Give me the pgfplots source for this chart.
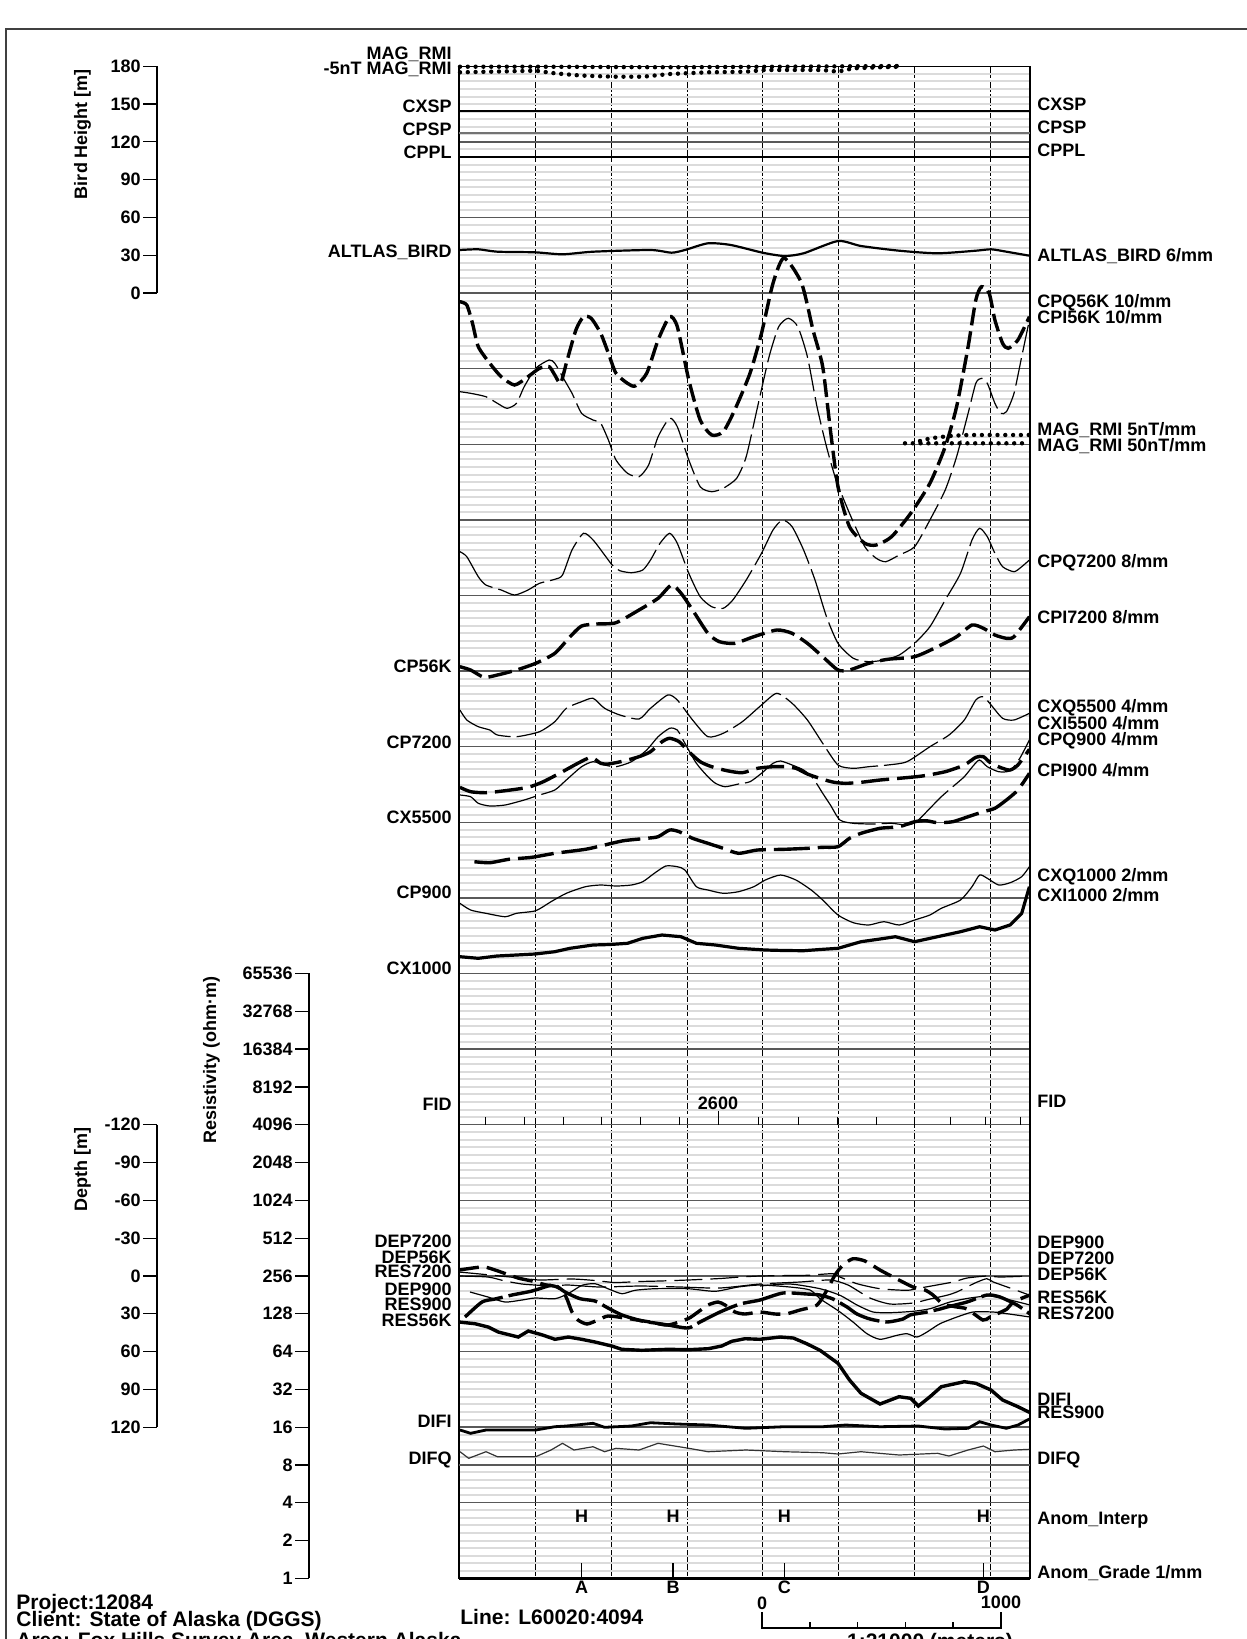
\documentclass[border=0pt]{standalone}
\usepackage{fontspec}
\setmainfont{Liberation Sans}
\usepackage{pgfplots}
\pgfplotsset{compat=1.18}

% 1 px of the reference = 0.5pt; all plot coordinates are in reference pixels (y grows downwards)
\tikzset{
  lbl/.style={font=\fontsize{9}{9}\selectfont\bfseries, inner sep=0pt, yshift=-3.2pt},
  L/.style={lbl, anchor=base east},
  R/.style={lbl, anchor=base west},
  big/.style={font=\fontsize{10.5}{10.5}\selectfont\bfseries, inner sep=0pt, yshift=-3.8pt, anchor=base west},
}
\pgfplotsset{
  scaleaxis/.style={anchor=south west, scale only axis, width=1pt, xmin=0, xmax=1,
    hide x axis, axis y line=left, y axis line style={-, line width=0.6pt, black},
    tick align=outside, major tick length=7pt, minor tick length=0pt,
    ytick style={line width=0.6pt, black},
    yticklabel style={font=\fontsize{9}{9}\selectfont\bfseries, inner sep=1pt}},
  thin/.style={black, line width=0.6pt, smooth, tension=0.4},
  thick/.style={black, line width=1.7pt, smooth, tension=0.4},
  dots/.style={black, line width=2.2pt, line cap=round, dash pattern=on 0pt off 3.9pt},
}

\begin{document}
\begin{tikzpicture}

% ---------------- profile panel ----------------
\begin{axis}[
  at={(229.5pt,30.35pt)}, anchor=south west, scale only axis,
  width=285.5pt, height=756pt,
  xmin=459, xmax=1030, ymin=66.3, ymax=1578.3, y dir=reverse,
  clip=false,
  axis line style={black, line width=0.6pt},
  xtick={535.4,611.2,687,762.8,838.6,914.4,990.2},
  ytick={66.3,141.9,217.5,293.1,368.7,444.3,519.9,595.5,671.1,746.7,822.3,897.9,973.5,1049.1,1124.7,1200.3,1275.9,1351.5,1427.1,1502.7,1578.3},
  extra y ticks={1465}, extra y tick labels={}, extra y tick style={grid=major},
  minor y tick num=9,
  xticklabels={}, yticklabels={},
  major tick length=0pt, minor tick length=0pt,
  xmajorgrids, ymajorgrids, yminorgrids,
  major x grid style={black, line width=0.45pt, dash pattern=on 6pt off 1pt},
  major y grid style={black!65, line width=0.75pt},
  minor y grid style={black!14, line width=1pt},
]

% MAG_RMI
\addplot[dots] coordinates {(460,66.7)(535.7,66.7)(669.6,67.3)(784.4,66.7)(897.3,66)};
\addplot[dots] coordinates {(460,72.3)(500,71.5)(535.7,70.7)(554.8,73.3)(580,75.5)(612.2,76.7)(643,76.7)(669.6,74)(708,72.3)(746,71.7)(765.3,70)(822.7,70)(838,71.7)(853,68.3)(880,67.3)(899,66.7)};

% CXSP, CPSP, CPPL
\addplot[black, line width=0.9pt] coordinates {(459,111)(1030,111)};
\addplot[black!55, line width=1.4pt] coordinates {(459,133)(1030,133)};
\addplot[black, line width=0.9pt] coordinates {(459,157)(1030,157)};

% ALTLAS_BIRD
\addplot[black, line width=1.1pt, smooth, tension=0.4] coordinates {
(459.9,250)(478.3,249.3)(497.4,251.7)(534.9,252.3)(562.5,254.3)(593.1,251.7)(650.5,250)(671.5,252.7)(684.9,250)(707.9,243.3)(730.9,245)(762.6,252.7)(784.4,256)(803.6,253.3)(838,241)(861,246)(899.2,250.7)(937.5,253.3)(975.8,250.7)(991.1,249.3)(1006.4,251.7)(1029.4,255.7)};

% CPQ56K (thin dashed)
\addplot[thin, dash pattern=on 14pt off 3pt] coordinates {
(459.9,391.7)(470.6,393.3)(485.9,396.7)(497.4,403.3)(507,408.3)(516.5,403.3)(524.2,386.7)(535.7,368.3)(549.1,360)(554.8,363.3)(562.5,376.7)(572,393.3)(581.6,413.3)(593.1,420)(600.7,423.3)(608.4,440)(616,460)(627.5,473.3)(639,476.7)(648.6,465)(658.1,436.7)(669.6,418.3)(677.3,426.7)(688.8,460)(700.2,486.7)(711.7,491.7)(723.2,488.3)(736.6,478.3)(746.2,456.7)(757.6,406.7)(769.1,356.7)(778.7,326.7)(788.3,318.3)(797.8,326.7)(807.4,356.7)(817,406.7)(826.5,446.7)(836.1,480)(849.5,513.3)(864.8,546.7)(876.3,558.3)(885.8,561.7)(899.2,555)(914.6,546.7)(929.9,520)(945.2,490)(956.6,456.7)(968.1,413.3)(975.8,383.3)(981.5,378.3)(987.3,383.3)(994.9,403.3)(1000.7,413.3)(1006.4,411.7)(1014,393.3)(1021.7,356.7)(1029.4,320)};

% CPI56K (thick dashed)
\addplot[thick, dash pattern=on 9pt off 3pt] coordinates {
(459.9,301.7)(466.8,305)(472.5,323.3)(478.3,346.7)(489.8,363.3)(501.2,376.7)(514.6,385)(528,376.7)(539.5,368.3)(549.1,366.7)(554.8,375)(560.6,383.3)(566.3,363.3)(575.9,330)(583.5,316.7)(591.2,318.3)(600.7,333.3)(608.4,353.3)(616,373.3)(627.5,383.3)(635.2,386)(646.7,373.3)(658.1,340)(669.6,316.7)(677.3,326.7)(688.8,380)(700.2,420)(711.7,435)(723.2,431.7)(734.7,410)(750,373.3)(761.5,333.3)(773,283.3)(784,258)(801.6,283.3)(813,330)(822.7,366.7)(830.4,430)(838,486.7)(849.5,526.7)(864.8,543.3)(876.3,545)(891.6,536.7)(910.7,513.3)(929.9,483.3)(945.2,446.7)(956.6,406.7)(968.1,346.7)(975.8,300)(981.5,286.7)(989.2,293.3)(994.9,320)(1002.6,343.3)(1008.3,348.3)(1017.9,340)(1029.4,316.7)};

% MAG_RMI 5nT/mm, 50nT/mm
\addplot[dots] coordinates {(920,441)(926,439.3)(937.5,437.3)(953,435.7)(968,435)(1029.4,435)};
\addplot[dots] coordinates {(905,443.3)(1029.4,443.3)};

% CPQ7200 (thin long dashed)
\addplot[thin, dash pattern=on 25pt off 3pt] coordinates {
(459.9,551.7)(466.8,556.7)(478.3,576.7)(485.9,585)(501.2,590)(514.6,595)(528,590)(539.5,583.3)(554.8,579.3)(562.5,575)(572,550)(583.5,533.3)(593.1,540)(604.6,555)(612.2,565)(619.9,570.7)(631.4,572.7)(642.8,570)(650.5,560)(660,543.3)(669.6,533.3)(677.3,543.3)(688.8,573.3)(700.2,596.7)(711.7,606.7)(723.2,608.3)(732.8,600)(746.2,580)(761.5,553.3)(773,530)(782.5,520)(792.1,526.7)(803.6,550)(815,580)(826.5,616.7)(838,643.3)(853.3,658.3)(868.6,661.7)(883.9,660)(899.2,655)(914.6,643.3)(929.9,626.7)(945.2,600)(960.5,573.3)(972,540)(979.6,528.3)(987.3,536.7)(994.9,553.3)(1002.6,566.7)(1014,571.7)(1021.7,566.7)(1029.4,560)};

% CPI7200 (thick dashed)
\addplot[thick, dash pattern=on 12pt off 3.5pt] coordinates {
(459.9,666.7)(470.6,670)(484,677.3)(497.4,675)(516.5,670)(535.7,663.3)(554.8,653.3)(570.1,636.7)(581.6,626)(596.9,624)(616,622.7)(639,610)(658.1,598.3)(671.5,585)(681.1,593.3)(692.6,610)(707.9,633.3)(719.4,641.7)(734.7,643.3)(753.8,636.7)(776.8,630)(792.1,633.3)(807.4,643.3)(822.7,656.7)(838,670)(849.5,670)(868.6,663.3)(887.7,659.3)(914.6,656.7)(937.5,646.7)(956.6,636.7)(972,625)(983.4,628.3)(994.9,635)(1006.4,638.3)(1014,636.7)(1029.4,616.7)};

% CXQ5500 (thin long dashed)
\addplot[thin, dash pattern=on 30pt off 3pt] coordinates {
(459.9,710)(466.8,720)(478.3,726.7)(489.8,730)(497.4,735)(516.5,736.7)(539.5,731.7)(554.8,721.7)(566.3,708.3)(581.6,701.7)(593.1,698.3)(604.6,708.3)(619.9,715)(639,719)(650.5,708.3)(667.7,695)(677.3,700)(692.6,720)(707.9,736.7)(723.2,733.3)(742.3,721.7)(761.5,705)(776.8,693.3)(792.1,703.3)(807.4,720)(822.7,743.3)(838,765)(853.3,768.3)(868.6,766.7)(887.7,765)(906.9,761.7)(929.9,746.7)(949,735)(964.3,720)(975.8,700)(983.4,696.7)(991.1,705)(1002.6,718.3)(1014,720)(1029.4,713.3)};

% CPI900 (thick dashed)
\addplot[thick, dash pattern=on 14pt off 4pt] coordinates {
(459.9,787.3)(470.6,791.7)(485.9,792.7)(505.1,790.7)(528,787.3)(543.3,781.7)(562.5,771.7)(577.8,763.3)(591.2,757.3)(600.7,763.3)(608.4,764)(623.7,761)(639,756.7)(650.5,751.7)(662,741.7)(669.6,738.3)(679.2,741.7)(688.8,751.7)(700.2,761.7)(711.7,766.7)(727,770.7)(742.3,772.7)(757.6,768.3)(773,766.7)(784.4,766.7)(795.9,768.3)(807.4,774)(822.7,779.3)(834.2,782.3)(845.7,783.3)(861,782.3)(880.1,780)(899.2,778.3)(922.2,776)(945.2,771.7)(964.3,765)(975.8,757.3)(983.4,756.7)(991.1,763.3)(1002.6,768.3)(1010.2,770)(1017.9,765)(1029.4,749.3)};

% CPQ900 (thin)
\addplot[thin, dash pattern=on 40pt off 3pt] coordinates {
(459.9,795)(470.6,796.7)(478.3,803.3)(489.8,806)(505.1,805)(524.2,800)(539.5,795)(554.8,790)(566.3,780)(581.6,766.7)(593.1,761.7)(604.6,765)(616,766.7)(631.4,761.7)(646.7,750)(658.1,736.7)(669.6,728.3)(677.3,730)(684.9,743.3)(696.4,763.3)(707.9,776.7)(715.5,783.3)(725.1,786.7)(738.5,784)(750,781.7)(761.5,773.3)(773,763.3)(780.6,761)(792.1,765)(803.6,770)(813.1,778.3)(822.7,793.3)(830.4,805)(839.9,820)(853.3,823.3)(872.5,824)(891.6,823.3)(906.9,825)(916.5,821.7)(929.9,808.3)(941.3,796.7)(952.8,786.7)(964.3,776.7)(973.9,765)(979.6,760)(987.3,766.7)(998.7,771.7)(1010.2,770.7)(1019.8,758.3)(1029.4,740)};

% CXI5500 (thick dashed)
\addplot[thick, dash pattern=on 18pt off 4pt] coordinates {
(474.4,861.7)(489.8,862.7)(508.9,859.3)(531.8,857.3)(554.8,853.3)(585.4,849.3)(604.6,845)(623.7,840.7)(646.7,838.3)(658.1,836.7)(669.6,830)(679.2,831.7)(692.6,838.3)(707.9,843.3)(723.2,848.3)(738.5,853.3)(757.6,850)(784.4,849.3)(807.4,848.3)(822.7,847.3)(838,846.7)(849.5,838.3)(861,833.3)(880.1,828.3)(899.2,826.7)(914.6,821.7)(926,820.7)(937.5,822.7)(952.8,821.7)(968.1,816.7)(983.4,811.7)(994.9,808.3)(1006.4,800)(1017.9,790)(1029.4,773.3)};

% CXQ1000 (thin)
\addplot[thin] coordinates {
(459.9,903.3)(470.6,910)(485.9,913.3)(505.1,916.7)(516.5,913.3)(535.7,910.7)(551,901.7)(566.3,893.3)(585.4,886.7)(600.7,885)(616,886)(631.4,885)(642.8,881.7)(654.3,873.3)(665.8,866)(677.3,866.7)(684.9,870)(696.4,886.7)(707.9,890)(723.2,893.3)(738.5,891.7)(753.8,886.7)(765.3,880)(780.6,875)(795.9,880)(811.2,890)(822.7,900)(838,915)(853.3,922.7)(868.6,925)(883.9,921.7)(899.2,925)(914.6,920)(929.9,915)(941.3,908.3)(960.5,900)(972,886.7)(979.6,875)(987.3,878.3)(998.7,885)(1010.2,882.7)(1021.7,876.7)(1029.4,866.7)};

% CXI1000 (thick)
\addplot[black, line width=1.6pt] coordinates {
(460,956.7)(478.3,958.3)(497,956)(516.5,955)(535,954)(554.8,951.7)(570,948.3)(593,945)(610,944.5)(627.5,943.3)(642.8,938.3)(662,935)(681,936.7)(696.4,943.3)(715.5,945)(738.5,948.3)(765.3,950)(784,950.5)(803.6,950.7)(820,949.5)(838,948.3)(861,941.7)(880,939)(895.4,936.7)(914.6,941.7)(937.5,936.7)(960.5,931.7)(979.6,926.7)(995,930)(1010,925)(1021.7,913.3)(1029.4,886.7)};

% FID ticks
\addplot[black, line width=0.5pt, unbounded coords=jump] coordinates {
(485,1124.7)(485,1117)(485,nan)(524,1124.7)(524,1117)(524,nan)(563,1124.7)(563,1117)(563,nan)
(601.5,1124.7)(601.5,1117)(601.5,nan)(640,1124.7)(640,1117)(640,nan)(679,1124.7)(679,1117)(679,nan)
(718,1124.7)(718,1111)(718,nan)(758,1124.7)(758,1117)(758,nan)(798,1124.7)(798,1117)(798,nan)
(837,1124.7)(837,1117)(837,nan)(876,1124.7)(876,1117)(876,nan)(914,1124.7)(914,1117)(914,nan)
(950,1124.7)(950,1117)(950,nan)(985,1124.7)(985,1117)(985,nan)(1020,1124.7)(1020,1117)};

% DEP / RES curves
\addplot[thin, dash pattern=on 14pt off 4pt] coordinates {
(459,1272)(480,1274)(500,1276)(520,1278)(540,1280)(572,1279)(595,1280.5)(615,1282.5)(640,1281.5)(660,1281)(688,1280)(720,1278.5)(740,1277)(760,1276)(790,1275.5)(807,1275.3)(833,1273.7)(840,1277)(857,1283.7)(880,1288.7)(907,1290.3)(920,1288)(953,1282)(967,1278)(987,1276)(1000,1277)(1030,1276)};
\addplot[thin, dash pattern=on 22pt off 4pt] coordinates {
(459,1276)(488,1277)(505,1281)(522,1284)(535,1285)(552,1286)(568,1285)(600,1287)(640,1286)(680,1287)(720,1288)(760,1284)(800,1282)(830,1280)(848,1285)(870,1298)(890,1304)(913,1303)(930,1299)(946.7,1295.3)(956.7,1292)(975,1283)(986.7,1278.7)(993.3,1282)(1010,1288)(1030,1295.3)};
\addplot[thin] coordinates {
(470,1292)(488,1297)(505,1302)(522,1300)(535,1298)(555,1298.7)(568,1293.7)(582,1285.3)(595,1283.7)(608,1288.7)(622,1293.7)(635,1290.3)(655,1288.7)(688,1288.7)(715,1291.3)(738,1287)(760,1285)(790,1287)(810,1290)(820,1298.7)(830,1305.3)(840,1312)(853,1322)(867,1333.7)(880,1339.3)(897,1335.3)(907,1333.7)(917,1337)(927,1332)(940,1323.7)(957,1317)(973,1312)(993,1312)(1007,1313.7)(1030,1317)};
\addplot[thin] coordinates {
(760,1286)(790,1284)(820,1288.7)(840,1295.3)(857,1305)(873,1312)(890,1312.7)(913,1311.3)(930,1308.7)(950,1302)(970,1298)(990,1296)(1010,1300)(1030,1305)};
\addplot[thick, dash pattern=on 10pt off 4pt] coordinates {
(459,1270)(475,1267.7)(485,1267)(498,1271)(518,1278)(532,1281)(545,1284.7)(555,1286.3)(562,1290)(567,1299)(572,1312)(578,1320)(587,1324)(598,1320)(608,1316)(625,1318)(650,1322)(668,1325)(688,1318.7)(698,1312)(708,1305)(718,1302)(725,1305)(735,1312)(745,1314)(760,1312)(775,1314)(787,1313.7)(800,1310)(817,1305)(827,1290)(835,1275)(843,1265)(853,1258.7)(865,1261)(880,1270)(897,1279)(913,1287)(925,1290)(933,1295)(943,1304)(957,1307)(967,1309)(983,1320)(990,1317)(1007,1309)(1013,1302)(1030,1295)};
\addplot[thick, dash pattern=on 22pt off 3pt] coordinates {
(465,1317)(482,1302)(495,1299)(512,1295)(532,1291)(548,1286)(555,1285)(565,1292)(580,1298.7)(595,1301)(608,1308)(622,1315)(642,1321)(655,1323)(668,1325)(688,1328)(700,1322)(720,1312)(740,1304)(760,1300)(783,1293)(807,1294)(820,1295)(833,1299)(847,1307)(857,1314)(870,1319)(887,1322)(903,1319)(910,1315)(927,1312)(940,1309)(947,1307)(967,1302)(987,1295)(1000,1297)(1017,1305)(1030,1314)};
% RES900
\addplot[black, line width=1.7pt] coordinates {
(459,1322)(475,1323.7)(488.3,1327)(498.3,1332)(505,1333.7)(518.3,1337)(528.3,1331)(541.7,1334.7)(555,1339.3)(568.3,1337)(581.7,1339.3)(595,1342)(611.7,1346)(621.7,1349.3)(641.7,1350.3)(668.3,1349.3)(688.3,1349.7)(708.3,1348.7)(721.7,1346)(731.7,1341.3)(745,1338.7)(760,1339.3)(780,1337)(793.3,1338)(806.7,1343.7)(820,1350.3)(838,1363.3)(849.5,1380)(861,1393.3)(880,1404)(899,1396.7)(910.7,1398.3)(918.4,1406)(930,1396.7)(941.3,1386.7)(964.3,1381.7)(975.8,1383.3)(991,1390)(1002.6,1400)(1017.9,1406.7)(1029.4,1412.3)};

% DIFI / DIFQ
\addplot[black, line width=1.4pt] coordinates {
(460,1430)(470.6,1433.3)(486,1430)(535.7,1430)(554.8,1426.7)(566.3,1426)(593,1423.3)(604.6,1427.3)(631.4,1426)(650.5,1422.7)(677.3,1424)(708,1425)(746,1428.3)(784.4,1426.7)(822.7,1426.7)(845.7,1425)(880,1426.7)(918.4,1426)(945,1429)(968,1428.3)(979.6,1421.7)(991,1425)(1006.4,1428.3)(1017.9,1425)(1029.4,1419)};
\addplot[black!80, line width=0.6pt] coordinates {
(460,1451.7)(468.7,1458.3)(486,1451.7)(497.4,1456.7)(535.7,1456.7)(551,1450)(562.5,1443.3)(574,1450)(593,1446.7)(604.6,1451.7)(616,1448.3)(639,1450)(658,1443.3)(688.8,1448.3)(708,1451.7)(746,1450)(784.4,1451.7)(822.7,1452.7)(838,1454)(861,1451.7)(899.2,1455)(937.5,1453.3)(949,1456)(968,1450)(983.4,1446)(995,1451.7)(1014,1450)(1029.4,1449.3)};

% Anom_Grade
\addplot[black, line width=0.6pt, unbounded coords=jump] coordinates {
(581.5,1578)(581.5,1563)(581.5,nan)(673,1578)(673,1563)(673,nan)(784.4,1578)(784.4,1563)(784.4,nan)(983.3,1578)(983.3,1563)};
\addplot[black, line width=1.2pt] coordinates {(459,1578.3)(1030,1578.3)};
\end{axis}

% ---------------- page: frame and texts ----------------
\begin{axis}[
  at={(0pt,0pt)}, anchor=south west, scale only axis,
  width=623.5pt, height=819.5pt,
  xmin=0, xmax=1247, ymin=0, ymax=1639, y dir=reverse,
  hide axis, clip=false,
]
\draw[black!75, line width=0.7pt] (axis cs:6,1700) -- (axis cs:6,29) -- (axis cs:1300,29);

\node[rotate=90, lbl, yshift=0pt] at (axis cs:76,134) {Bird Height [m]};
\node[rotate=90, lbl, yshift=0pt] at (axis cs:76,1169) {Depth [m]};
\node[rotate=90, lbl, yshift=0pt] at (axis cs:205,1060) {Resistivity (ohm·m)};

% left labels
\node[L] at (axis cs:452,52.7) {MAG\_RMI};
\node[L] at (axis cs:452,68.3) {-5nT MAG\_RMI};
\node[L] at (axis cs:452,106) {CXSP};
\node[L] at (axis cs:452,128.7) {CPSP};
\node[L] at (axis cs:452,151.7) {CPPL};
\node[L] at (axis cs:452,250.7) {ALTLAS\_BIRD};
\node[L] at (axis cs:452,666) {CP56K};
\node[L] at (axis cs:452,742) {CP7200};
\node[L] at (axis cs:452,817) {CX5500};
\node[L] at (axis cs:452,892) {CP900};
\node[L] at (axis cs:452,968) {CX1000};
\node[L] at (axis cs:452,1104) {FID};
\node[L] at (axis cs:452,1241) {DEP7200};
\node[L] at (axis cs:452,1257) {DEP56K};
\node[L] at (axis cs:452,1271.4) {RES7200};
\node[L] at (axis cs:452,1289) {DEP900};
\node[L] at (axis cs:452,1304) {RES900};
\node[L] at (axis cs:452,1319.6) {RES56K};
\node[L] at (axis cs:452,1421.4) {DIFI};
\node[L] at (axis cs:452,1457.7) {DIFQ};

% right labels
\node[R] at (axis cs:1037,104) {CXSP};
\node[R] at (axis cs:1037,127) {CPSP};
\node[R] at (axis cs:1037,150.5) {CPPL};
\node[R] at (axis cs:1037,255) {ALTLAS\_BIRD 6/mm};
\node[R] at (axis cs:1037,301) {CPQ56K 10/mm};
\node[R] at (axis cs:1037,317) {CPI56K 10/mm};
\node[R] at (axis cs:1037,429) {MAG\_RMI 5nT/mm};
\node[R] at (axis cs:1037,445) {MAG\_RMI 50nT/mm};
\node[R] at (axis cs:1037,561) {CPQ7200 8/mm};
\node[R] at (axis cs:1037,617) {CPI7200 8/mm};
\node[R] at (axis cs:1037,706) {CXQ5500 4/mm};
\node[R] at (axis cs:1037,723) {CXI5500 4/mm};
\node[R] at (axis cs:1037,739) {CPQ900 4/mm};
\node[R] at (axis cs:1037,770) {CPI900 4/mm};
\node[R] at (axis cs:1037,875) {CXQ1000 2/mm};
\node[R] at (axis cs:1037,895) {CXI1000 2/mm};
\node[R] at (axis cs:1037,1101) {FID};
\node[R] at (axis cs:1037,1242.5) {DEP900};
\node[R] at (axis cs:1037,1258) {DEP7200};
\node[R] at (axis cs:1037,1274) {DEP56K};
\node[R] at (axis cs:1037,1297) {RES56K};
\node[R] at (axis cs:1037,1313) {RES7200};
\node[R] at (axis cs:1037,1399) {DIFI};
\node[R] at (axis cs:1037,1411.7) {RES900};
\node[R] at (axis cs:1037,1457.7) {DIFQ};
\node[R] at (axis cs:1037,1518) {Anom\_Interp};
\node[R] at (axis cs:1037,1572) {Anom\_Grade 1/mm};

% fiducial, anomaly letters
\node[lbl, anchor=base] at (axis cs:718,1103) {2600};
\node[lbl, anchor=base] at (axis cs:581.5,1516) {H};
\node[lbl, anchor=base] at (axis cs:673,1516) {H};
\node[lbl, anchor=base] at (axis cs:784.4,1516) {H};
\node[lbl, anchor=base] at (axis cs:983.3,1516) {H};
\node[lbl, anchor=base] at (axis cs:581.5,1587.3) {A};
\node[lbl, anchor=base] at (axis cs:673,1587.3) {B};
\node[lbl, anchor=base] at (axis cs:784.4,1587.3) {C};
\node[lbl, anchor=base] at (axis cs:983.3,1587.3) {D};

% footer
\node[big] at (axis cs:16,1601.7) {Project:12084};
\node[big] at (axis cs:16,1619.3) {Client: State of Alaska (DGGS)};
\node[big] at (axis cs:16,1640) {Area: Fox Hills Survey Area, Western Alaska};
\node[big] at (axis cs:460,1617) {Line: L60020:4094};
\node[lbl, anchor=base] at (axis cs:762,1603) {0};
\node[lbl, anchor=base] at (axis cs:1001,1602) {1000};
\draw[black, line width=0.8pt] (axis cs:762,1612) -- (axis cs:762,1628) -- (axis cs:1001,1628) -- (axis cs:1001,1612);
\draw[black, line width=0.8pt] (axis cs:809.8,1628) -- (axis cs:809.8,1622);
\draw[black, line width=0.8pt] (axis cs:857.6,1628) -- (axis cs:857.6,1622);
\draw[black, line width=0.8pt] (axis cs:905.4,1628) -- (axis cs:905.4,1622);
\draw[black, line width=0.8pt] (axis cs:953.2,1628) -- (axis cs:953.2,1622);
\node[big, anchor=base] at (axis cs:930,1641) {1:21000 (meters)};
\end{axis}

% ---------------- left scales ----------------
\begin{axis}[scaleaxis, at={(78.5pt,672.95pt)}, height=113.4pt,
  ymin=0, ymax=180, ytick={0,30,60,90,120,150,180},
  yticklabels={0,30,60,90,120,150,180}]
\end{axis}
\begin{axis}[scaleaxis, at={(78.5pt,105.95pt)}, height=151.2pt,
  ymin=-120, ymax=120, y dir=reverse, ytick={-120,-90,-60,-30,0,30,60,90,120},
  yticklabels={-120,-90,-60,-30,0,30,60,90,120}]
\end{axis}
\begin{axis}[scaleaxis, at={(154.5pt,30.35pt)}, height=302.4pt,
  ymode=log, log basis y=2, ymin=1, ymax=65536,
  ytick={1,2,4,8,16,32,64,128,256,512,1024,2048,4096,8192,16384,32768,65536},
  yticklabels={1,2,4,8,16,32,64,128,256,512,1024,2048,4096,8192,16384,32768,65536}]
\end{axis}

\pgfresetboundingbox
\path[use as bounding box] (0pt,0pt) rectangle (623.5pt,819.5pt);
\end{tikzpicture}
\end{document}
